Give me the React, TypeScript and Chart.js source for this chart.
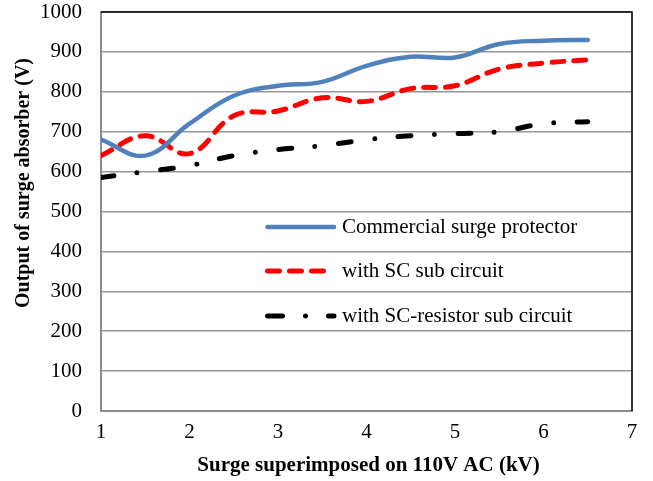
import React, { useEffect, useRef } from "react";
import { Chart, registerables } from "chart.js";

Chart.register(...registerables);

const surgeKV = [1, 1.5, 2, 2.5, 3, 3.5, 4, 4.5, 5, 5.5, 6, 6.5];
const commercial = [680, 640, 720, 790, 815, 825, 865, 888, 886, 920, 928, 930];
const withSC = [640, 690, 645, 740, 752, 785, 776, 808, 815, 857, 872, 880];
const withSCResistor = [585, 600, 615, 640, 655, 665, 680, 690, 695, 700, 720, 725];
const seriesLabels = [
  "Commercial surge protector",
  "with SC sub circuit",
  "with SC-resistor sub circuit",
];
const xTitle = "Surge superimposed on 110V AC (kV)";
const yTitle = "Output of surge absorber (V)";

const FONT = "'Liberation Serif', 'Times New Roman', serif";

const decor = {
  id: "decor",
  afterDraw(chart: any) {
    const { ctx, chartArea: a } = chart;
    ctx.save();
    // top & right border
    ctx.strokeStyle = "#000";
    ctx.lineWidth = 1.6;
    ctx.beginPath();
    ctx.moveTo(a.left, a.top);
    ctx.lineTo(a.right, a.top);
    ctx.lineTo(a.right, a.bottom);
    ctx.stroke();

    // legend
    const legendRows = [227, 271, 316];
    const lx0 = 267.5;
    const lx1 = 334;
    chart.data.datasets.forEach((ds: any, i: number) => {
      const y = legendRows[i];
      ctx.save();
      ctx.strokeStyle = ds.borderColor;
      ctx.lineWidth = ds.borderWidth;
      ctx.lineCap = "round";
      if (i === 2) ctx.setLineDash([15, 23, 0.01, 23]);
      else if (ds.borderDash) ctx.setLineDash(ds.borderDash);
      ctx.beginPath();
      ctx.moveTo(lx0, y);
      ctx.lineTo(i === 1 ? 327 : lx1, y);
      ctx.stroke();
      ctx.restore();
      ctx.fillStyle = "#000";
      ctx.font = `21px ${FONT}`;
      ctx.textAlign = "left";
      ctx.textBaseline = "middle";
      ctx.fillText(ds.label, 342, y);
    });

    // axis titles
    ctx.fillStyle = "#000";
    ctx.font = `bold 21px ${FONT}`;
    ctx.textAlign = "center";
    ctx.textBaseline = "middle";
    ctx.fillText(xTitle, (a.left + a.right) / 2 + 2, 466);
    ctx.save();
    ctx.translate(24, 183);
    ctx.rotate(-Math.PI / 2);
    ctx.font = `bold 20px ${FONT}`;
    ctx.fillText(yTitle, 0, 0);
    ctx.restore();
    ctx.restore();
  },
};

export default function App() {
  const ref = useRef<HTMLCanvasElement>(null);
  useEffect(() => {
    document.body.style.margin = "0";
    const mk = (vals: number[]) => surgeKV.map((x, i) => ({ x, y: vals[i] }));
    const chart = new Chart(ref.current!, {
      type: "line",
      data: {
        datasets: [
          {
            label: seriesLabels[0],
            data: mk(commercial),
            borderColor: "#4F81BD",
            borderWidth: 4.5,
            borderCapStyle: "round",
            tension: 0.4,
            pointRadius: 0,
          },
          {
            label: seriesLabels[1],
            data: mk(withSC),
            borderColor: "#FF0000",
            borderWidth: 5,
            borderDash: [12, 10],
            borderCapStyle: "round",
            tension: 0.4,
            pointRadius: 0,
          },
          {
            label: seriesLabels[2],
            data: mk(withSCResistor),
            borderColor: "#000000",
            borderWidth: 5,
            borderDash: [13, 23.5, 0.01, 23.5],
            borderCapStyle: "round",
            tension: 0.4,
            pointRadius: 0,
          },
        ],
      },
      options: {
        animation: false,
        responsive: false,
        devicePixelRatio: 1,
        layout: { padding: { left: 0, right: 21, top: 12, bottom: 0 } },
        plugins: { legend: { display: false }, tooltip: { enabled: false } },
        scales: {
          x: {
            type: "linear",
            min: 1,
            max: 7,
            afterFit: (s: any) => {
              s.height = 70;
              s.paddingLeft = 0;
              s.paddingRight = 0;
            },
            ticks: {
              stepSize: 1,
              color: "#000",
              padding: 11,
              font: { family: FONT, size: 21, lineHeight: 1 },
            },
            grid: { display: false, drawTicks: false },
            border: { display: true, color: "#8c8c8c", width: 2 },
          },
          y: {
            min: 0,
            max: 1000,
            afterFit: (s: any) => {
              s.width = 101;
              s.paddingTop = 0;
              s.paddingBottom = 0;
            },
            ticks: {
              stepSize: 100,
              color: "#000",
              padding: 19,
              font: { family: FONT, size: 21, lineHeight: 1 },
              callback: (v: any) => String(v),
            },
            grid: { color: "#969696", lineWidth: 1.5, drawTicks: false },
            border: { display: true, color: "#8c8c8c", width: 2 },
          },
        },
      },
      plugins: [decor],
    } as any);
    return () => chart.destroy();
  }, []);
  return (
    <div style={{ position: "fixed", left: 0, top: 0 }}>
      <canvas ref={ref} width={653} height={481} />
    </div>
  );
}
